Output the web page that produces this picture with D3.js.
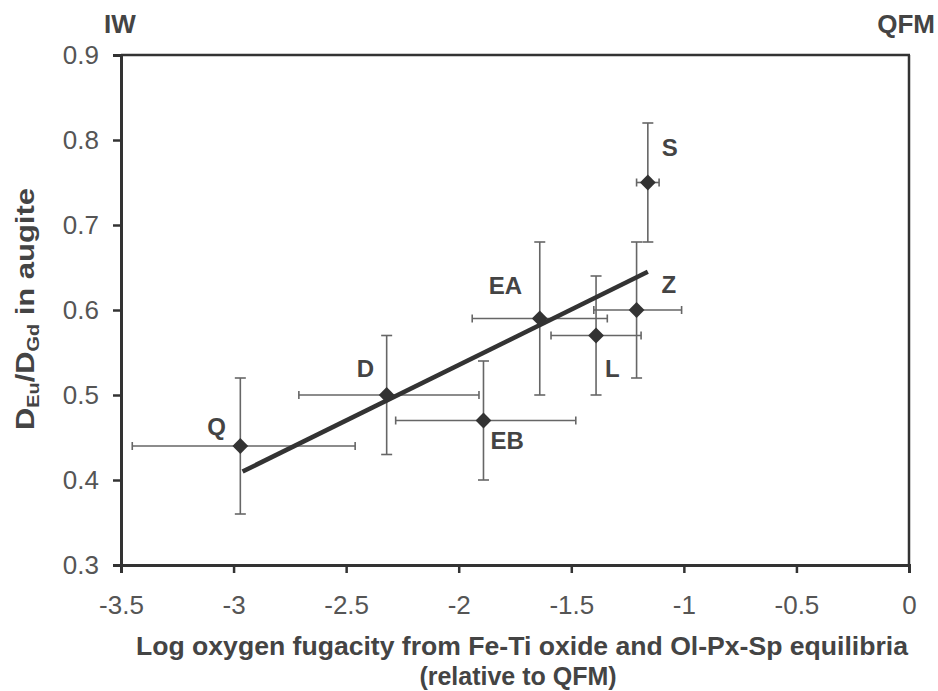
<!DOCTYPE html>
<html><head><meta charset="utf-8">
<script src="https://cdn.jsdelivr.net/npm/d3@7"></script>
<style>body{margin:0;background:#fff}svg{display:block}</style>
</head><body>
<svg id="c" width="938" height="691"></svg>
<script>
const labels = ["Q","D","EB","EA","L","Z","S"];
const xVals  = [-2.97,-2.32,-1.89,-1.64,-1.39,-1.21,-1.16];
const yVals  = [0.44,0.50,0.47,0.59,0.57,0.60,0.75];
const xLo    = [-3.45,-2.71,-2.28,-1.94,-1.59,-1.40,-1.21];
const xHi    = [-2.46,-1.91,-1.48,-1.34,-1.19,-1.01,-1.11];
const yLo    = [0.36,0.43,0.40,0.50,0.50,0.52,0.68];
const yHi    = [0.52,0.57,0.54,0.68,0.64,0.68,0.82];
const fitX   = [-2.96,-1.16];
const fitY   = [0.41,0.645];
const xTicks = [-3.5,-3,-2.5,-2,-1.5,-1,-0.5,0];
const yTicks = [0.3,0.4,0.5,0.6,0.7,0.8,0.9];
// label offsets in pixels from the point
const lblDx = [-33,-30,7,-51,9,25,14];
const lblDy = [-11,-18,28,-25,41,-17,-27];

const svg = d3.select("#c");
const L=121, R=909, T=55, B=565;
const x = d3.scaleLinear().domain([-3.5,0]).range([L,R]);
const y = d3.scaleLinear().domain([0.3,0.9]).range([B,T]);
const ink="#333", font="Liberation Sans, Arial, sans-serif";

// frame
svg.append("line").attr("x1",L).attr("x2",R+1).attr("y1",T).attr("y2",T).attr("stroke",ink).attr("stroke-width",2.5);
svg.append("line").attr("x1",R).attr("x2",R).attr("y1",T).attr("y2",B).attr("stroke",ink).attr("stroke-width",2.5);

const xa = svg.append("g").attr("transform",`translate(0,${B})`)
  .call(d3.axisBottom(x).tickValues(xTicks).tickFormat(d=>String(d)).tickSize(8).tickPadding(23));
const ya = svg.append("g").attr("transform",`translate(${L},0)`)
  .call(d3.axisLeft(y).tickValues(yTicks).tickFormat(d3.format(".1f")).tickSize(8).tickPadding(14));
[xa,ya].forEach(a=>{
  a.select(".domain").attr("stroke",ink).attr("stroke-width",3);
  a.selectAll(".tick line").attr("stroke",ink).attr("stroke-width",2.5);
  a.selectAll(".tick text").attr("fill","#555").attr("font-family",font).attr("font-size",26);
});

// error bars
const g = svg.append("g").attr("stroke","#666").attr("stroke-width",1.6).attr("fill","none");
const capH=4, capV=5.5;
labels.forEach((_,i)=>{
  const cx=x(xVals[i]), cy=y(yVals[i]);
  g.append("line").attr("x1",x(xLo[i])).attr("x2",x(xHi[i])).attr("y1",cy).attr("y2",cy);
  g.append("line").attr("x1",x(xLo[i])).attr("x2",x(xLo[i])).attr("y1",cy-capH).attr("y2",cy+capH);
  g.append("line").attr("x1",x(xHi[i])).attr("x2",x(xHi[i])).attr("y1",cy-capH).attr("y2",cy+capH);
  g.append("line").attr("x1",cx).attr("x2",cx).attr("y1",y(yLo[i])).attr("y2",y(yHi[i]));
  g.append("line").attr("x1",cx-capV).attr("x2",cx+capV).attr("y1",y(yLo[i])).attr("y2",y(yLo[i]));
  g.append("line").attr("x1",cx-capV).attr("x2",cx+capV).attr("y1",y(yHi[i])).attr("y2",y(yHi[i]));
});

// fit line
svg.append("line").attr("x1",x(fitX[0])).attr("y1",y(fitY[0])).attr("x2",x(fitX[1])).attr("y2",y(fitY[1]))
  .attr("stroke",ink).attr("stroke-width",4.5);

// markers (square diamonds)
svg.append("g").selectAll("path").data(labels).join("path")
  .attr("d",d3.symbol(d3.symbolSquare,125))
  .attr("transform",(d,i)=>`translate(${x(xVals[i])},${y(yVals[i])}) rotate(45)`)
  .attr("fill",ink);

// point labels
svg.append("g").selectAll("text").data(labels).join("text")
  .attr("x",(d,i)=>x(xVals[i])+lblDx[i]).attr("y",(d,i)=>y(yVals[i])+lblDy[i])
  .attr("font-family",font).attr("font-weight","bold").attr("font-size",24).attr("fill","#444")
  .text(d=>d);

// corner labels
svg.append("text").attr("x",104).attr("y",33).attr("font-family",font).attr("font-weight","bold")
  .attr("font-size",26).attr("fill","#444").text("IW");
svg.append("text").attr("x",935).attr("y",33).attr("text-anchor","end").attr("font-family",font).attr("font-weight","bold")
  .attr("font-size",26).attr("fill","#444").text("QFM");

// x axis title
svg.append("text").attr("x",136).attr("y",655).attr("font-family",font).attr("font-weight","bold")
  .attr("font-size",25).attr("fill","#444").attr("textLength",772).attr("lengthAdjust","spacingAndGlyphs")
  .text("Log oxygen fugacity from Fe-Ti oxide and Ol-Px-Sp equilibria");
svg.append("text").attr("x",518).attr("y",685).attr("text-anchor","middle").attr("font-family",font).attr("font-weight","bold")
  .attr("font-size",25).attr("fill","#444").text("(relative to QFM)");

// y axis title
const yt = svg.append("text").attr("transform","translate(34,430) rotate(-90)")
  .attr("font-family",font).attr("font-weight","bold").attr("font-size",25).attr("fill","#444")
  .attr("textLength",242).attr("lengthAdjust","spacingAndGlyphs");
yt.append("tspan").text("D");
yt.append("tspan").attr("font-size",16).attr("dy",5).text("Eu");
yt.append("tspan").attr("dy",-5).text("/D");
yt.append("tspan").attr("font-size",16).attr("dy",5).text("Gd");
yt.append("tspan").attr("dy",-5).text(" in augite");
</script>
</body></html>
